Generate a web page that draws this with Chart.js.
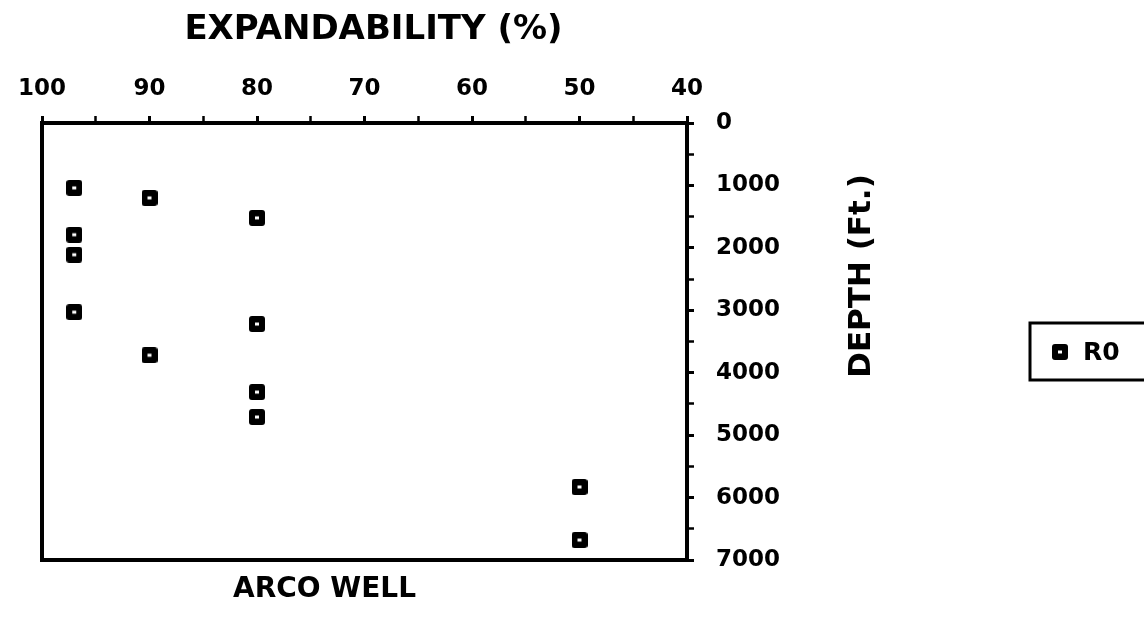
<!DOCTYPE html>
<html>
<head>
<meta charset="utf-8">
<title>ARCO WELL</title>
<script src="https://cdn.jsdelivr.net/npm/chart.js@4/dist/chart.umd.min.js"></script>
<style>
  html, body { margin: 0; padding: 0; background: #fff; }
  #grafica { display: block; }
</style>
</head>
<body>
<canvas id="grafica" width="1144" height="618"></canvas>
<script>
// Expandabilidad (%) y profundidad (ft) de cada muestra
const expandabilidad = [97, 90, 80, 97, 97, 97, 80, 90, 80, 80, 50, 50];
const profundidad    = [1040, 1200, 1520, 1790, 2110, 3030, 3220, 3720, 4310, 4710, 5830, 6680];
const serieNombre = 'R0';

const tituloX = 'EXPANDABILITY (%)';
const tituloY = 'DEPTH (Ft.)';
const tituloPozo = 'ARCO WELL';

const FUENTE = '"DejaVu Sans", sans-serif';

// marcador: cuadro negro redondeado con un hueco blanco pequeño
function hacerMarcador(t) {
  const c = document.createElement('canvas');
  c.width = t; c.height = t;
  const g = c.getContext('2d');
  g.fillStyle = '#000';
  g.beginPath();
  g.roundRect(0, 0, t, t, 3);
  g.fill();
  g.fillStyle = '#fff';
  g.fillRect(t / 2 - 2, t / 2 - 1.5, 4, 3);
  return c;
}
const marcador = hacerMarcador(16);

const puntos = expandabilidad.map((x, i) => ({ x, y: profundidad[i] }));

// marco, títulos y leyenda
const decorado = {
  id: 'decorado',
  afterDraw(chart) {
    const { ctx, chartArea: a } = chart;
    ctx.save();
    ctx.strokeStyle = '#000';
    ctx.lineWidth = 4;
    ctx.strokeRect(a.left, a.top, a.width, a.height);

    ctx.fillStyle = '#000';
    ctx.textAlign = 'center';
    ctx.textBaseline = 'middle';

    ctx.font = `bold 34px ${FUENTE}`;
    ctx.fillText(tituloX, a.left + a.width / 2 + 9, 30);

    ctx.font = `bold 28px ${FUENTE}`;
    ctx.fillText(tituloPozo, a.left + a.width / 2 - 40, a.bottom + 30);

    ctx.save();
    ctx.translate(a.right + 175, a.top + 153);
    ctx.rotate(-Math.PI / 2);
    ctx.font = `bold 31px ${FUENTE}`;
    ctx.fillText(tituloY, 0, 0);
    ctx.restore();

    // leyenda
    const lx = 1030, ly = 323;
    ctx.lineWidth = 3;
    ctx.strokeRect(lx, ly, 140, 57);
    const ds = chart.data.datasets[0];
    const m = ds.pointStyle;
    ctx.drawImage(m, lx + 30 - m.width / 2, ly + 29 - m.height / 2);
    ctx.textAlign = 'left';
    ctx.font = `bold 25px ${FUENTE}`;
    ctx.fillText(ds.label, lx + 53, ly + 30);
    ctx.restore();
  }
};

new Chart(document.getElementById('grafica'), {
  type: 'scatter',
  data: {
    datasets: [{
      label: serieNombre,
      data: puntos,
      pointStyle: marcador,
      pointRadius: 8,
      pointHoverRadius: 8
    }]
  },
  options: {
    responsive: false,
    animation: false,
    layout: { padding: { left: 42, bottom: 58, top: 0, right: 0 } },
    plugins: { legend: { display: false }, tooltip: { enabled: false } },
    scales: {
      x: {
        type: 'linear',
        position: 'top',
        reverse: true,
        min: 40,
        max: 100,
        afterFit: s => { s.height = 123; },
        border: { display: false },
        grid: {
          drawOnChartArea: false,
          tickLength: 7,
          tickColor: '#000',
          tickWidth: c => (c.tick && c.tick.value % 10 === 0 ? 3 : 2.5)
        },
        ticks: {
          stepSize: 5,
          autoSkip: false,
          maxRotation: 0,
          padding: 13,
          color: '#000',
          font: { family: FUENTE, size: 23, weight: 'bold' },
          callback: v => (v % 10 === 0 ? v : '')
        }
      },
      y: {
        type: 'linear',
        position: 'right',
        reverse: true,
        min: 0,
        max: 7000,
        afterFit: s => { s.width = 457; },
        border: { display: false },
        grid: {
          drawOnChartArea: false,
          tickLength: 7,
          tickColor: '#000',
          tickWidth: c => (c.tick && c.tick.value % 1000 === 0 ? 3 : 2.5)
        },
        ticks: {
          stepSize: 500,
          autoSkip: false,
          padding: 22,
          color: '#000',
          font: { family: FUENTE, size: 23, weight: 'bold' },
          callback: v => (v % 1000 === 0 ? v : '')
        }
      }
    }
  },
  plugins: [decorado]
});
</script>
</body>
</html>
